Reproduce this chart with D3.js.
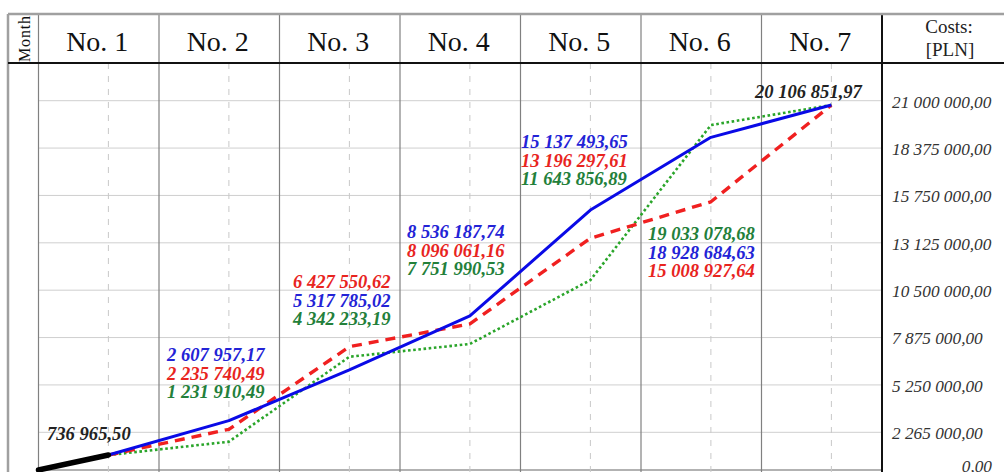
<!DOCTYPE html>
<html>
<head>
<meta charset="utf-8">
<script src="https://cdn.jsdelivr.net/npm/d3@7"></script>
<style>
  body { margin: 0; background: #fff; }
  svg { display: block; font-family: "Liberation Serif", "Times New Roman", serif; }
</style>
</head>
<body>
<div id="chart"></div>
<script>
// month columns and the points in them (in column units, a point sits 0.58 into its column)
const months = ["No. 1", "No. 2", "No. 3", "No. 4", "No. 5", "No. 6", "No. 7"];
const monthT = [0.58, 1.58, 2.58, 3.58, 4.58, 5.58, 6.58];

// plotted curves
const startValues = [0, 1040000];
const blueValues = [1040000, 3270000, 6080000, 9070000, 14940000, 18970000, 20760000];
const redValues = [1040000, 2790000, 7370000, 8630000, 13380000, 15400000, 20760000];
const greenValues = [1040000, 1970000, 6810000, 7520000, 11060000, 19650000, 20760000];

// printed values
const blackLabels = [736965.50, 20106851.97];
const blueLabels = [2607957.17, 5317785.02, 8536187.74, 15137493.65, 18928684.63];
const redLabels = [2235740.49, 6427550.62, 8096061.16, 13196297.61, 15008927.64];
const greenLabels = [1231910.49, 4342233.19, 7751990.53, 11643856.89, 19033078.68];

// cost axis
const tickValues = [0, 2625000, 5250000, 7875000, 10500000, 13125000, 15750000, 18375000, 21000000];
const tickLabels = ["0,00", "2 265 000,00", "5 250 000,00", "7 875 000,00", "10 500 000,00",
  "13 125 000,00", "15 750 000,00", "18 375 000,00", "21 000 000,00"];

const W = 1004, H = 472;
const frameTop = 14, headerY = 63, frameLeft = 8;
const serif = "\"Liberation Serif\", \"Times New Roman\", serif";

const col = {
  blue: "#0a0ae6", red: "#f02020", green: "#2aa52a",
  blueText: "#2323d6", redText: "#e8241e", greenText: "#23803a", blackText: "#222"
};

const svg = d3.select("#chart").append("svg")
  .attr("width", W)
  .attr("height", H);

const x = d3.scaleLinear().domain([0, 7]).range([38.5, 882]);
const y = d3.scaleLinear()
  .domain([0, 2625000, 21000000])
  .range([470, 432.3, 100.7]);

// horizontal grid
svg.append("g")
  .selectAll("line")
  .data(tickValues)
  .join("line")
  .attr("x1", x(0)).attr("x2", x(7))
  .attr("y1", d => y(d)).attr("y2", d => y(d))
  .attr("stroke", d => d === 0 ? "#999" : "#cfcfcf")
  .attr("stroke-width", d => d === 0 ? 1.5 : 1);

// dashed month marks
svg.append("g")
  .selectAll("line")
  .data(monthT)
  .join("line")
  .attr("x1", d => x(d)).attr("x2", d => x(d))
  .attr("y1", headerY).attr("y2", H)
  .attr("stroke", "#c8c8c8")
  .attr("stroke-dasharray", "6,7");

// column boundaries
svg.append("g")
  .selectAll("line")
  .data(d3.range(0, 8))
  .join("line")
  .attr("x1", d => x(d)).attr("x2", d => x(d))
  .attr("y1", frameTop).attr("y2", H)
  .attr("stroke", d => d === 7 ? "#111" : "#808080")
  .attr("stroke-width", d => d === 7 ? 2 : 1.2);

// frame
svg.append("line").attr("x1", frameLeft).attr("x2", W).attr("y1", frameTop).attr("y2", frameTop)
  .attr("stroke", "#a0a0a0").attr("stroke-width", 2.5);
svg.append("line").attr("x1", frameLeft).attr("x2", frameLeft).attr("y1", frameTop).attr("y2", H)
  .attr("stroke", "#a0a0a0").attr("stroke-width", 2.5);
svg.append("line").attr("x1", frameLeft).attr("x2", W).attr("y1", headerY).attr("y2", headerY)
  .attr("stroke", "#111").attr("stroke-width", 2);

// header
svg.append("g")
  .selectAll("text")
  .data(months)
  .join("text")
  .attr("x", (d, i) => x(i + 0.5) - 1.5)
  .attr("y", 51)
  .attr("text-anchor", "middle")
  .attr("font-size", 28)
  .attr("fill", "#111")
  .text(d => d);

svg.append("text")
  .attr("transform", `translate(30,39) rotate(-90)`)
  .attr("text-anchor", "middle")
  .attr("font-size", 16)
  .attr("textLength", 46)
  .attr("fill", "#111")
  .text("Month");

svg.append("text").attr("x", 949).attr("y", 33).attr("text-anchor", "middle")
  .attr("font-size", 19).attr("fill", "#222").text("Costs:");
svg.append("text").attr("x", 950).attr("y", 56).attr("text-anchor", "middle")
  .attr("font-size", 19).attr("fill", "#222").text("[PLN]");

// cost axis labels
const axis = d3.axisRight(y)
  .tickValues(tickValues)
  .tickSize(0)
  .tickPadding(0)
  .tickFormat((d, i) => tickLabels[i]);

const axisG = svg.append("g").attr("transform", "translate(892,0)").call(axis);
axisG.select(".domain").remove();
axisG.attr("font-family", null).attr("font-size", null);
axisG.selectAll("text")
  .style("font-family", serif)
  .style("font-size", "17.3px")
  .style("font-style", "italic")
  .attr("fill", "#333")
  .attr("dy", null)
  .attr("y", d => Math.min(6.3, 471 - y(d)))
  .attr("x", d => d === 0 ? 100 : 0)
  .attr("text-anchor", d => d === 0 ? "end" : "start");

// curves
const line = d3.line()
  .x(d => x(d[0]))
  .y(d => y(d[1]));

const series = [
  { values: greenValues, color: col.green, width: 2.6, dash: "2.6,2.6" },
  { values: redValues, color: col.red, width: 3.4, dash: "10,7" },
  { values: blueValues, color: col.blue, width: 3, dash: null }
];

svg.append("g")
  .selectAll("path")
  .data(series)
  .join("path")
  .attr("d", s => line(s.values.map((v, i) => [monthT[i], v])))
  .attr("fill", "none")
  .attr("stroke", s => s.color)
  .attr("stroke-width", s => s.width)
  .attr("stroke-dasharray", s => s.dash)
  .attr("stroke-linejoin", "round");

svg.append("path")
  .attr("d", line([[0, startValues[0]], [monthT[0], startValues[1]]]))
  .attr("fill", "none")
  .attr("stroke", "#000")
  .attr("stroke-width", 5.5)
  .attr("stroke-linecap", "round");

// value labels: which printed value goes where, top line first
const labelBlocks = [
  { x: 47, y: 440, rows: [["black", 0]] },
  { x: 167, y: 361, rows: [["blue", 0], ["red", 0], ["green", 0]] },
  { x: 293, y: 288, rows: [["red", 1], ["blue", 1], ["green", 1]] },
  { x: 407, y: 238, rows: [["blue", 2], ["red", 2], ["green", 2]] },
  { x: 521, y: 148, rows: [["blue", 3], ["red", 3], ["green", 3]] },
  { x: 648, y: 240, rows: [["green", 4], ["blue", 4], ["red", 4]] },
  { x: 755, y: 98, rows: [["black", 1]] }
];

const labelSource = { black: blackLabels, blue: blueLabels, red: redLabels, green: greenLabels };
const plFormat = d3.formatLocale({ decimal: ",", thousands: " ", grouping: [3], currency: ["", ""] }).format(",.2f");

const blocks = svg.append("g")
  .selectAll("g")
  .data(labelBlocks)
  .join("g")
  .attr("transform", d => `translate(${d.x},${d.y})`);

blocks.selectAll("text")
  .data(d => d.rows)
  .join("text")
  .attr("y", (d, i) => i * 18.6)
  .attr("font-size", 18.6)
  .attr("font-weight", "bold")
  .attr("font-style", "italic")
  .attr("fill", d => col[d[0] + "Text"])
  .text(d => plFormat(labelSource[d[0]][d[1]]));
</script>
</body>
</html>
